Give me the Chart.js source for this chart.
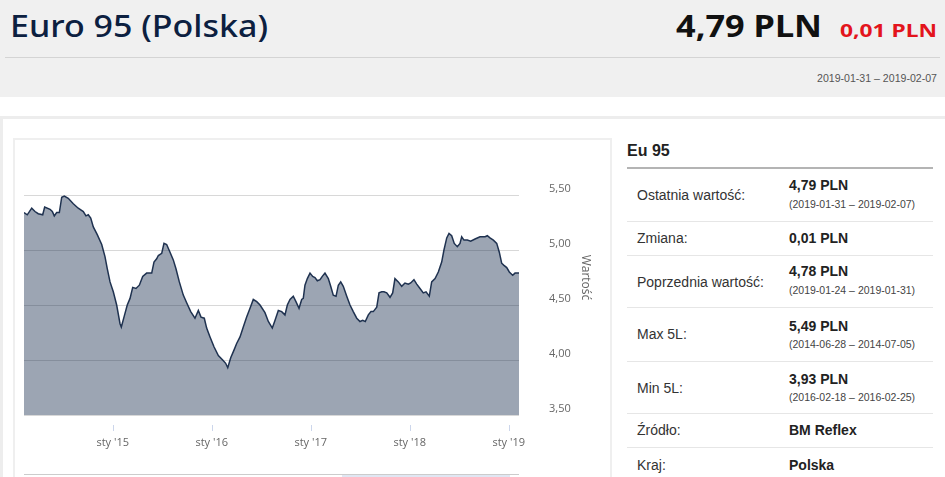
<!DOCTYPE html>
<html>
<head>
<meta charset="utf-8">
<script src="https://cdn.jsdelivr.net/npm/chart.js@4.4.0/dist/chart.umd.min.js"></script>
<style>
  html, body { margin:0; padding:0; background:#fff; }
  body { width:945px; height:477px; overflow:hidden; position:relative; font-family:"Liberation Sans", Arial, sans-serif; }
  .abs { position:absolute; white-space:nowrap; }
  #hdr { position:absolute; left:0; top:0; width:945px; height:97px; background:#f0f0f0; }
  #hline { position:absolute; left:5px; top:57px; width:935px; height:1px; background:#d4d4d4; }
  #topBorder { position:absolute; left:0; top:116px; width:945px; height:3px; background:#ededed; }
  #leftBorder { position:absolute; left:0; top:116px; width:3px; height:361px; background:#ededed; }
  #chartBox { position:absolute; left:13px; top:138px; width:595px; height:345px; border:2px solid #efefef; }
  #chartWrap { position:absolute; left:15px; top:140px; width:595px; height:337px; }
  .lbl { font-size:14px; line-height:14px; color:#333; left:637px; }
  .val { font-size:14px; line-height:14px; color:#222; font-weight:bold; left:789px; }
  .sub { font-size:10.5px; line-height:10.5px; color:#444; left:789px; }
  .sep { position:absolute; left:627px; width:306px; height:1px; background:#e6e6e6; }
  .fitL { transform-origin:0 0; display:inline-block; }
</style>
</head>
<body>
<div id="hdr"></div>
<div id="hline"></div>
<div class="abs fitL" id="title" style="left:10px; top:9.5px; font-family:'Noto Sans'; font-size:31px; line-height:31px; font-weight:500; color:#0c2040;">Euro 95 (Polska)</div>
<div class="abs fitL" id="price" style="left:676px; top:9.5px; font-family:'Noto Sans'; font-size:31px; line-height:31px; font-weight:bold; color:#111;">4,79 PLN</div>
<div class="abs fitL" id="chg" style="left:840px; top:21px; font-family:'Noto Sans'; font-size:18px; line-height:18px; font-weight:bold; color:#e3141c;">0,01 PLN</div>
<div class="abs fitL" id="date" style="left:817px; top:73px; font-size:10.5px; line-height:10.5px; color:#555;">2019-01-31 – 2019-02-07</div>

<div id="topBorder"></div>
<div id="leftBorder"></div>
<div id="chartBox"></div>
<div id="chartWrap"><canvas id="c" width="595" height="337"></canvas></div>
<div style="position:absolute; left:24px; top:474px; width:495px; height:1px; background:#cccccc;"></div>
<div style="position:absolute; left:342px; top:475px; width:168px; height:2px; background:rgba(102,133,194,0.2);"></div>

<div class="abs" style="left:627px; top:143.2px; font-size:16px; line-height:16px; font-weight:bold; color:#222;">Eu 95</div>
<div class="sep" style="top:167px; height:2px; background:#b4b4b4;"></div>

<div class="abs lbl" style="top:188.2px;">Ostatnia wartość:</div>
<div class="abs val" style="top:178.2px;">4,79 PLN</div>
<div class="abs sub" style="top:198.9px;">(2019-01-31 – 2019-02-07)</div>
<div class="sep" style="top:221px;"></div>

<div class="abs lbl" style="top:231.2px;">Zmiana:</div>
<div class="abs val" style="top:231.2px;">0,01 PLN</div>
<div class="sep" style="top:255px;"></div>

<div class="abs lbl" style="top:274.9px;">Poprzednia wartość:</div>
<div class="abs val" style="top:264.2px;">4,78 PLN</div>
<div class="abs sub" style="top:284.9px;">(2019-01-24 – 2019-01-31)</div>
<div class="sep" style="top:307px;"></div>

<div class="abs lbl" style="top:327.2px;">Max 5L:</div>
<div class="abs val" style="top:318.7px;">5,49 PLN</div>
<div class="abs sub" style="top:338.9px;">(2014-06-28 – 2014-07-05)</div>
<div class="sep" style="top:361px;"></div>

<div class="abs lbl" style="top:380.7px;">Min 5L:</div>
<div class="abs val" style="top:371.7px;">3,93 PLN</div>
<div class="abs sub" style="top:392.4px;">(2016-02-18 – 2016-02-25)</div>
<div class="sep" style="top:413px;"></div>

<div class="abs lbl" style="top:423.2px;">Źródło:</div>
<div class="abs val" style="top:423.2px;">BM Reflex</div>
<div class="sep" style="top:447px;"></div>

<div class="abs lbl" style="top:457.7px;">Kraj:</div>
<div class="abs val" style="top:457.7px;">Polska</div>

<script>
// Dates as decimal years (weekly series, sampled), values in PLN
const dates = [
  2014.104, 2014.137, 2014.182, 2014.215, 2014.248, 2014.293, 2014.313, 2014.367, 2014.390, 2014.410,
  2014.434, 2014.461, 2014.485, 2014.511, 2014.551, 2014.602, 2014.652, 2014.703, 2014.730, 2014.753,
  2014.778, 2014.804, 2014.844, 2014.889, 2014.922, 2014.945, 2014.973, 2015.006, 2015.040, 2015.074,
  2015.087, 2015.114, 2015.147, 2015.175, 2015.202, 2015.235, 2015.269, 2015.303, 2015.343, 2015.394,
  2015.417, 2015.444, 2015.461, 2015.495, 2015.518, 2015.545, 2015.579, 2015.612, 2015.639, 2015.673,
  2015.713, 2015.747, 2015.788, 2015.831, 2015.865, 2015.892, 2015.925, 2015.949, 2015.983, 2016.023,
  2016.067, 2016.111, 2016.141, 2016.162, 2016.192, 2016.225, 2016.252, 2016.286, 2016.319, 2016.353,
  2016.387, 2016.420, 2016.455, 2016.488, 2016.538, 2016.572, 2016.612, 2016.639, 2016.673, 2016.707,
  2016.740, 2016.764, 2016.791, 2016.824, 2016.851, 2016.882, 2016.909, 2016.925, 2016.942, 2016.966,
  2016.993, 2017.020, 2017.043, 2017.067, 2017.094, 2017.117, 2017.144, 2017.178, 2017.202, 2017.228,
  2017.256, 2017.279, 2017.303, 2017.329, 2017.364, 2017.397, 2017.430, 2017.465, 2017.498, 2017.525,
  2017.551, 2017.582, 2017.609, 2017.632, 2017.667, 2017.690, 2017.717, 2017.740, 2017.768, 2017.801,
  2017.828, 2017.851, 2017.885, 2017.919, 2017.952, 2017.986, 2018.010, 2018.043, 2018.071, 2018.104,
  2018.137, 2018.165, 2018.198, 2018.222, 2018.256, 2018.289, 2018.323, 2018.346, 2018.374, 2018.397,
  2018.424, 2018.450, 2018.481, 2018.508, 2018.525, 2018.548, 2018.582, 2018.616, 2018.660, 2018.710,
  2018.761, 2018.784, 2018.811, 2018.845, 2018.879, 2018.905, 2018.929, 2018.952, 2018.980, 2019.006,
  2019.040, 2019.064, 2019.104
];
const prices = [
  5.34, 5.32, 5.38, 5.35, 5.33, 5.32, 5.39, 5.37, 5.35, 5.31,
  5.34, 5.34, 5.48, 5.49, 5.47, 5.42, 5.38, 5.35, 5.31, 5.32,
  5.29, 5.21, 5.14, 5.05, 4.94, 4.83, 4.71, 4.62, 4.50, 4.33,
  4.30, 4.39, 4.50, 4.56, 4.66, 4.65, 4.68, 4.76, 4.79, 4.79,
  4.89, 4.92, 4.95, 4.97, 5.06, 5.05, 4.98, 4.91, 4.83, 4.71,
  4.59, 4.52, 4.44, 4.38, 4.45, 4.39, 4.38, 4.29, 4.21, 4.12,
  4.04, 4.00, 3.97, 3.93, 4.02, 4.09, 4.15, 4.21, 4.30, 4.39,
  4.47, 4.55, 4.53, 4.50, 4.43, 4.35, 4.29, 4.36, 4.45, 4.44,
  4.41, 4.50, 4.55, 4.58, 4.53, 4.47, 4.55, 4.56, 4.68, 4.74,
  4.79, 4.76, 4.75, 4.72, 4.73, 4.76, 4.79, 4.74, 4.67, 4.59,
  4.58, 4.68, 4.71, 4.67, 4.58, 4.50, 4.44, 4.38, 4.35, 4.36,
  4.35, 4.41, 4.44, 4.44, 4.48, 4.61, 4.62, 4.62, 4.61, 4.57,
  4.61, 4.74, 4.71, 4.67, 4.70, 4.69, 4.70, 4.73, 4.69, 4.65,
  4.61, 4.62, 4.58, 4.71, 4.74, 4.80, 4.89, 5.00, 5.11, 5.15,
  5.13, 5.06, 5.03, 5.06, 5.12, 5.09, 5.09, 5.08, 5.10, 5.12,
  5.12, 5.13, 5.11, 5.09, 5.06, 4.98, 4.88, 4.86, 4.84, 4.80,
  4.77, 4.79, 4.79
];
const xTickYears = [2015, 2016, 2017, 2018, 2019];
const xTickLabels = ["sty '15", "sty '16", "sty '17", "sty '18", "sty '19"];
const yTicks = [3.5, 4.0, 4.5, 5.0, 5.5];
const yTitle = "Wartość";

const tickFont = { family: "'Open Sans', sans-serif", size: 11 };

const extras = {
  id: 'extras',
  afterDraw(chart) {
    const ctx = chart.ctx;
    const xs = chart.scales.x;
    ctx.save();
    ctx.strokeStyle = '#ccd6eb';
    ctx.lineWidth = 1;
    xTickYears.forEach(v => {
      const px = Math.round(xs.getPixelForValue(v)) + 0.5;
      ctx.beginPath();
      ctx.moveTo(px, chart.chartArea.bottom + 10);
      ctx.lineTo(px, chart.chartArea.bottom + 16);
      ctx.stroke();
    });
    ctx.translate(570, 137.5);
    ctx.rotate(Math.PI / 2);
    ctx.fillStyle = '#666';
    ctx.font = "12px 'Open Sans', sans-serif";
    ctx.textAlign = 'center';
    ctx.textBaseline = 'middle';
    ctx.fillText(yTitle, 0, 0);
    ctx.restore();
  }
};

function build() {
  new Chart(document.getElementById('c'), {
    type: 'line',
    data: {
      datasets: [{
        data: dates.map((d, i) => ({ x: d, y: prices[i] })),
        borderColor: '#1f3250',
        borderWidth: 1.5,
        backgroundColor: 'rgba(20,40,75,0.42)',
        fill: 'start',
        pointRadius: 0,
        tension: 0
      }]
    },
    options: {
      responsive: false,
      animation: false,
      events: [],
      layout: { padding: { left: 9, top: 55, right: 0, bottom: 0 } },
      plugins: { legend: { display: false }, tooltip: { enabled: false } },
      scales: {
        x: {
          type: 'linear',
          min: dates[0],
          max: dates[dates.length - 1],
          grid: { display: false },
          border: { display: false },
          afterBuildTicks(s) { s.ticks = xTickYears.map(v => ({ value: v })); },
          afterFit(s) { s.height = 62; },
          ticks: {
            autoSkip: false,
            maxRotation: 0,
            padding: 13,
            color: '#666',
            font: tickFont,
            callback: (v) => xTickLabels[xTickYears.indexOf(v)]
          }
        },
        y: {
          position: 'right',
          min: 3.5,
          max: 5.5,
          afterBuildTicks(s) { s.ticks = yTicks.map(v => ({ value: v })); },
          afterFit(s) { s.width = 91; },
          grid: { color: '#d8d8d8', lineWidth: 1, drawTicks: false },
          border: { display: false },
          ticks: {
            padding: 30,
            labelOffset: -6,
            color: '#666',
            font: tickFont,
            callback: (v) => v.toFixed(2).replace('.', ',')
          }
        }
      }
    },
    plugins: [extras]
  });
}

function fit(id, w) {
  const el = document.getElementById(id);
  const r = el.getBoundingClientRect().width;
  el.style.transform = 'scaleX(' + (w / r) + ')';
}

(document.fonts ? document.fonts.ready : Promise.resolve()).then(() => {
  fit('title', 258);
  fit('price', 146);
  fit('chg', 97);
  fit('date', 120);
  build();
});
</script>
</body>
</html>
